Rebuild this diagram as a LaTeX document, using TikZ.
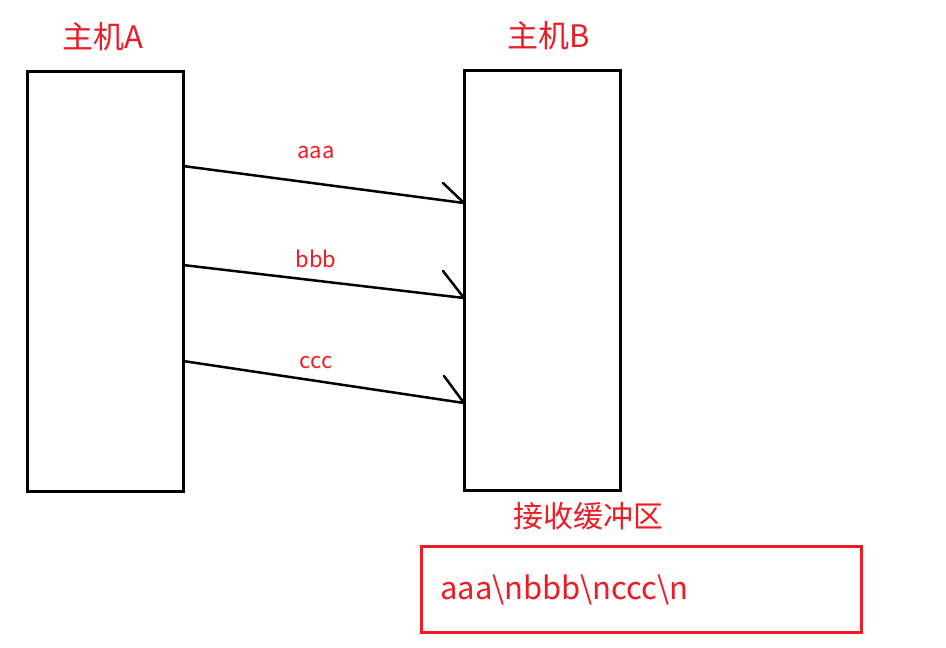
\documentclass[tikz,border=0pt]{standalone}
\usepackage{fontspec}
\setmainfont{Noto Sans CJK SC}
\definecolor{myred}{HTML}{ED1C24}
\begin{document}
\begin{tikzpicture}[x=1pt,y=-1pt,
  hostbox/.style={draw=black,line width=3pt},
  msgline/.style={draw=black,line width=2.5pt,line cap=round},
  redtext/.style={text=myred,inner sep=0pt},
  buf/.style={draw=myred,line width=3pt}]
\useasboundingbox (0,0) rectangle (946,648);
\fill[white] (0,0) rectangle (946,648);
\draw[hostbox] (27,71) rectangle (183,491);
\draw[hostbox] (464,70) rectangle (620,490);
\node[redtext,font=\fontsize{31}{34}\selectfont] (la) at (103,37) {主机A};
\node[redtext,font=\fontsize{31}{34}\selectfont] (lb) at (549,36) {主机B};
% arrows
\coordinate (a1) at (183,166); \coordinate (b1) at (464,203); \coordinate (h1) at (443,183);
\coordinate (a2) at (183,265); \coordinate (b2) at (464,298); \coordinate (h2) at (443,271);
\coordinate (a3) at (183,361); \coordinate (b3) at (464,403); \coordinate (h3) at (444,376);
\draw[msgline] (a1) -- (b1) (h1) -- (b1);
\draw[msgline] (a2) -- (b2) (h2) -- (b2);
\draw[msgline] (a3) -- (b3) (h3) -- (b3);
\node[redtext,font=\fontsize{22}{24}\selectfont] (m1) at (316,153) {aaa};
\node[redtext,font=\fontsize{22}{24}\selectfont] (m2) at (316,259) {bbb};
\node[redtext,font=\fontsize{22}{24}\selectfont] (m3) at (316,363) {ccc};
\node[redtext,font=\fontsize{30}{33}\selectfont] (rb) at (588,516) {接收缓冲区};
\draw[buf] (421,546) rectangle (861,632);
\node[redtext,anchor=west,font=\fontsize{31}{34}\selectfont] (bt) at (440,590) {aaa\textbackslash nbbb\textbackslash nccc\textbackslash n};
\end{tikzpicture}
\end{document}
